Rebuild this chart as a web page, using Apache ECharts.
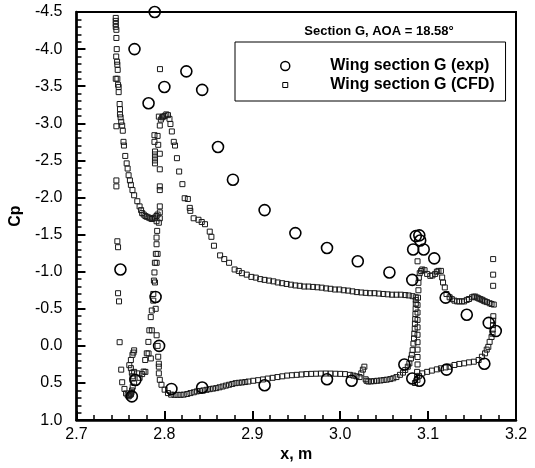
<!DOCTYPE html>
<html>
<head>
<meta charset="utf-8">
<script src="https://cdn.jsdelivr.net/npm/echarts@6/dist/echarts.min.js"></script>
<style>
  html, body { margin: 0; padding: 0; background: #fff; }
  #chart { width: 535px; height: 468px; }
</style>
</head>
<body>
<div id="chart"></div>
<script>
// Pressure coefficient along the three-element wing, section G.
// Each point is [x (m), Cp].

// Wind-tunnel taps
const expSlat = [[2.750,-1.03],[2.763,0.68],[2.767,0.46],[2.766,-4.00],[2.782,-3.27]];
const expMain = [[2.789,-4.50],[2.800,-3.49],[2.825,-3.70],[2.843,-3.45],[2.861,-2.68],[2.878,-2.24],
  [2.914,-1.83],[2.949,-1.52],[2.985,-1.32],[3.020,-1.14],[3.056,-0.99],[3.082,-0.89],
  [2.790,-0.66],[2.794,0.00],[2.808,0.58],[2.843,0.56],[2.914,0.53],[2.985,0.45],[3.013,0.47],
  [3.073,0.25],[3.082,0.44]];
const expFlap = [[3.086,-1.48],[3.090,-1.49],[3.091,-1.42],[3.083,-1.30],[3.095,-1.30],[3.107,-1.18],
  [3.120,-0.65],[3.144,-0.42],[3.169,-0.31],[3.177,-0.20],[3.164,0.24],[3.121,0.32],[3.090,0.47]];

// CFD surface solution: slat
const cfdSlatUpper = [[2.7447,-4.42],[2.7447,-4.38],[2.7447,-4.34],[2.7447,-4.30],[2.7454,-4.26],[2.7454,-4.15],
  [2.7458,-4.00],[2.7452,-3.90],[2.7462,-3.83],[2.7465,-3.79],[2.7469,-3.72],[2.7447,-3.60],[2.7465,-3.60],
  [2.7473,-3.52],[2.7480,-3.49],[2.7480,-3.42],[2.7491,-3.26],[2.7495,-3.19],[2.7495,-3.12],[2.7502,-3.08],
  [2.7509,-3.02],[2.7520,-2.97],[2.7527,-2.90],[2.7535,-2.75],[2.7540,-2.70],[2.7555,-2.56],[2.7571,-2.46],
  [2.7582,-2.39],[2.7593,-2.30],[2.7608,-2.23],[2.7619,-2.17],[2.7637,-2.10],[2.7656,-2.03],[2.7692,-1.95],
  [2.7718,-1.88],[2.7735,-1.83],[2.7747,-1.79],[2.7765,-1.77],[2.7784,-1.75],[2.7800,-1.74],[2.7821,-1.73],
  [2.7840,-1.72],[2.7857,-1.71],[2.7875,-1.72],[2.7893,-1.73],[2.7910,-1.75],[2.7923,-1.77]];
const cfdSlatLower = [[2.7454,-2.96],[2.7454,-2.23],[2.7454,-2.15],[2.7465,-1.41],[2.7473,-1.33],[2.7473,-0.71],
  [2.7484,-0.60],[2.7491,-0.05],[2.7509,0.32],[2.7520,0.49],[2.7546,0.58],[2.7564,0.64],[2.7582,0.66],
  [2.7593,0.68],[2.7600,0.67],[2.7611,0.66],[2.7620,0.65],[2.7625,0.63],[2.7632,0.60],[2.7640,0.55],
  [2.7656,0.50],[2.7645,0.44],[2.7637,0.41],[2.7630,0.36],[2.7619,0.30],[2.7601,0.26],[2.7619,0.19],
  [2.7637,0.12],[2.7648,0.09],[2.7656,0.06],[2.7656,0.35],[2.7692,0.37],[2.7718,0.43],[2.7747,0.38],
  [2.7784,0.35]];

// CFD: main element
const cfdMainNose = [[2.7764,0.346],[2.7782,0.19],[2.7800,0.10],[2.7820,0.102],[2.7846,0.169],[2.7818,-0.054],
  [2.7829,-0.21],[2.7857,-0.21],[2.7912,-0.143],[2.7845,-0.388],[2.7857,-0.477],[2.7901,-0.50],[2.7874,-0.61],
  [2.7874,-0.70],[2.7881,-0.88],[2.7893,-0.855],[2.7887,-0.99],[2.7892,-1.12],[2.7912,-1.12],[2.7903,-1.24],
  [2.7923,-1.24],[2.7911,-1.37],[2.7911,-1.46],[2.7918,-1.55],[2.7911,-1.68],[2.7937,-1.66],[2.7948,-1.72],
  [2.7948,-1.80],[2.7948,-1.88],[2.7948,-2.10],[2.7948,-2.15],[2.7948,-2.38],[2.7893,-2.46],[2.7893,-2.50],
  [2.7893,-2.54],[2.7893,-2.58],[2.7893,-2.62],[2.7948,-2.59],[2.7887,-2.75],[2.7887,-2.84],[2.7930,-2.71],
  [2.7923,-2.83],[2.7948,-2.97],[2.7937,-3.09],[2.7960,-3.05],[2.7975,-3.08],[2.7950,-3.73]];
const cfdMainUpper = [[2.7985,-3.09],[2.8003,-3.10],[2.8022,-3.12],[2.8041,-3.11],[2.8058,-3.06],[2.8069,-2.99],
  [2.8085,-2.89],[2.8107,-2.75],[2.8121,-2.70],[2.8143,-2.53],[2.8168,-2.35],[2.8205,-2.18],[2.8231,-1.99],
  [2.8267,-1.98],[2.8289,-1.86],[2.8295,-1.82],[2.8333,-1.72],[2.8388,-1.70],[2.8425,-1.67],[2.8462,-1.64],
  [2.8516,-1.54],[2.8535,-1.47],[2.8564,-1.35],[2.8634,-1.22],[2.8681,-1.17],[2.8736,-1.12],[2.8799,-1.03],
  [2.8846,-1.01],[2.8882,-0.98],[2.8937,-0.96],[2.8990,-0.93],[2.9040,-0.92],[2.9090,-0.90],[2.9140,-0.89],
  [2.9190,-0.88],[2.9240,-0.87],[2.9290,-0.855],[2.9340,-0.845],[2.9390,-0.835],[2.9440,-0.825],
  [2.9490,-0.815],[2.9540,-0.81],[2.9590,-0.80],[2.9640,-0.80],[2.9690,-0.795],[2.9740,-0.79],
  [2.9790,-0.785],[2.9840,-0.775],[2.9890,-0.77],[2.9940,-0.76],[2.9990,-0.76],[3.0040,-0.75],
  [3.0090,-0.745],[3.0140,-0.735],[3.0190,-0.725],[3.0240,-0.72],[3.0290,-0.715],[3.0340,-0.71],
  [3.0390,-0.71],[3.0440,-0.705],[3.0490,-0.70],[3.0540,-0.695],[3.0590,-0.69],[3.0640,-0.69],
  [3.0690,-0.69],[3.0740,-0.685],[3.0780,-0.68],[3.0824,-0.67]];
const cfdMainLower = [[2.7923,0.0],[2.7930,0.146],[2.7937,0.24],[2.7937,0.28],[2.7937,0.37],[2.7948,0.457],
  [2.7967,0.524],[2.8003,0.59],[2.8041,0.636],[2.8077,0.657],[2.8115,0.66],[2.8150,0.66],[2.8185,0.66],
  [2.8220,0.657],[2.8260,0.648],[2.8297,0.636],[2.8335,0.625],[2.8370,0.613],[2.8405,0.607],[2.8443,0.60],
  [2.8480,0.592],[2.8516,0.583],[2.8553,0.576],[2.8590,0.569],[2.8627,0.558],[2.8663,0.547],[2.8700,0.535],
  [2.8736,0.524],[2.8773,0.513],[2.8810,0.502],[2.8846,0.497],[2.8882,0.493],[2.8920,0.487],[2.8956,0.48],
  [2.9011,0.47],[2.9066,0.462],[2.9121,0.452],[2.9176,0.44],[2.9231,0.43],[2.9286,0.42],[2.9341,0.41],
  [2.9396,0.40],[2.9451,0.395],[2.9505,0.39],[2.9560,0.385],[2.9615,0.38],[2.9670,0.377],[2.9725,0.375],
  [2.9780,0.373],[2.9835,0.372],[2.9890,0.373],[2.9945,0.375],[3.0000,0.377],[3.0055,0.38],[3.0110,0.39],
  [3.0150,0.40],[3.0185,0.41],[3.0220,0.42],[3.0240,0.37],[3.0258,0.32],[3.0275,0.28],[3.0290,0.45],
  [3.0300,0.47],[3.0320,0.48],[3.0350,0.478],[3.0385,0.475],[3.0420,0.47],[3.0460,0.466],[3.0495,0.46],
  [3.0530,0.455],[3.0570,0.447],[3.0604,0.436],[3.0640,0.42],[3.0680,0.39],[3.0714,0.36],[3.0740,0.324],
  [3.0769,0.28],[3.0787,0.236],[3.0805,0.17],[3.0815,0.12],[3.0824,0.057],[3.0833,-0.031],[3.0840,-0.10],
  [3.0843,-0.165],[3.0848,-0.23],[3.0850,-0.30],[3.0853,-0.36],[3.0856,-0.43],[3.0858,-0.50],[3.0860,-0.57],
  [3.0860,-0.62],[3.0860,-0.655]];

// CFD: flap
const cfdFlapUpper = [[3.0875,0.42],[3.0875,0.35],[3.0880,0.25],[3.0880,0.15],[3.0880,0.05],[3.0880,-0.05],
  [3.0880,-0.15],[3.0880,-0.25],[3.0880,-0.35],[3.0880,-0.45],[3.0880,-0.55],[3.0885,-0.65],[3.0890,-0.75],
  [3.0890,-0.85],[3.0895,-0.92],[3.0905,-0.98],[3.0920,-1.01],[3.0934,-1.03],[3.0960,-1.02],[3.0989,-0.97],
  [3.1025,-0.944],[3.1050,-0.95],[3.1080,-0.97],[3.1100,-1.00],[3.1118,-1.011],[3.1146,-1.011],[3.1160,-0.922],
  [3.1170,-0.855],[3.1190,-0.788],[3.1209,-0.699],[3.1245,-0.655],[3.1270,-0.63],[3.1300,-0.61],[3.1330,-0.60],
  [3.1355,-0.60],[3.1385,-0.60],[3.1410,-0.60],[3.1440,-0.62],[3.1465,-0.632],[3.1500,-0.655],[3.1520,-0.664],
  [3.1538,-0.664],[3.1560,-0.65],[3.1575,-0.64],[3.1595,-0.63],[3.1612,-0.622],[3.1630,-0.61],[3.1648,-0.60],
  [3.1670,-0.59],[3.1700,-0.575],[3.1722,-0.565],[3.1747,-0.557],[3.0880,-1.14],[3.1740,-1.17],[3.1740,-0.96],
  [3.1740,-0.81]];
const cfdFlapLower = [[3.0850,0.50],[3.0879,0.457],[3.0897,0.404],[3.0934,0.37],[3.0989,0.35],[3.1043,0.333],
  [3.1100,0.316],[3.1146,0.302],[3.1200,0.29],[3.1245,0.28],[3.1300,0.257],[3.1355,0.243],[3.1410,0.235],
  [3.1465,0.222],[3.1520,0.213],[3.1575,0.19],[3.1612,0.146],[3.1648,0.10],[3.1667,0.05],[3.1685,0.013],
  [3.1700,-0.054],[3.1722,-0.12],[3.1733,-0.165],[3.1735,-0.22],[3.1738,-0.28],[3.1740,-0.34],[3.1742,-0.40]];

const expPoints = [].concat(expSlat, expMain, expFlap);
const cfdPoints = [].concat(cfdSlatUpper, cfdSlatLower, cfdMainNose, cfdMainUpper, cfdMainLower,
  cfdFlapUpper, cfdFlapLower);

const FONT = '"Liberation Sans", Arial, Helvetica, sans-serif';
const chart = echarts.init(document.getElementById('chart'), null, { renderer: 'canvas' });

chart.setOption({
  animation: false,
  backgroundColor: '#fff',
  title: {
    text: 'Section G, AOA = 18.58°',
    left: 374, top: 20, textAlign: 'center',
    textStyle: { fontFamily: FONT, fontSize: 13, fontWeight: 'bold', color: '#000' }
  },
  legend: {
    left: 235, top: 42, orient: 'vertical',
    padding: [15, 11, 7, 45],
    itemWidth: 80, itemHeight: 9, itemGap: 1,
    borderColor: '#000', borderWidth: 1, backgroundColor: '#fff',
    textStyle: { fontFamily: FONT, fontSize: 16, fontWeight: 'bold', color: '#000', lineHeight: 18 },
    data: [
      { name: 'Wing section G (exp)', icon: 'circle',
        itemStyle: { color: 'transparent', borderColor: '#000', borderWidth: 1.5 } },
      { name: 'Wing section G (CFD)', icon: 'path://M0,0M9,9M2,2h5v5h-5z',
        itemStyle: { color: 'transparent', borderColor: '#000', borderWidth: 1 } }
    ]
  },
  grid: {
    left: 62, right: 19, top: 12, bottom: 44,
    show: true, borderColor: '#000', borderWidth: 2
  },
  xAxis: {
    type: 'value', min: 2.7, max: 3.2, interval: 0.1,
    name: 'x, m', nameLocation: 'middle', nameGap: 17,
    nameTextStyle: { fontFamily: FONT, fontSize: 16, fontWeight: 'bold', color: '#000' },
    axisLine: { onZero: false, lineStyle: { color: '#000', width: 2.5 } },
    axisTick: { inside: true, length: 9, lineStyle: { color: '#000', width: 2 } },
    minorTick: { show: true, splitNumber: 5, length: 5, lineStyle: { color: '#000', width: 1.5 } },
    axisLabel: { margin: 6, fontFamily: FONT, fontSize: 16, color: '#000',
      formatter: v => v.toFixed(1) },
    splitLine: { show: false }
  },
  yAxis: {
    type: 'value', inverse: true, min: -4.5, max: 1.0, interval: 0.5,
    name: 'Cp', nameLocation: 'middle', nameGap: 27, nameRotate: 90,
    nameTextStyle: { fontFamily: FONT, fontSize: 16, fontWeight: 'bold', color: '#000' },
    axisLine: { onZero: false, lineStyle: { color: '#000', width: 2.5 } },
    axisTick: { inside: true, length: 9, lineStyle: { color: '#000', width: 2 } },
    minorTick: { show: true, splitNumber: 5, length: 5, lineStyle: { color: '#000', width: 1.5 } },
    axisLabel: { margin: 14, fontFamily: FONT, fontSize: 16, color: '#000',
      formatter: v => v.toFixed(1) },
    splitLine: { show: false }
  },
  series: [
    {
      name: 'Wing section G (CFD)', type: 'scatter', data: cfdPoints,
      symbol: 'rect', symbolSize: 5, clip: false,
      itemStyle: { color: 'transparent', borderColor: '#1a1a1a', borderWidth: 1, opacity: 1 }
    },
    {
      name: 'Wing section G (exp)', type: 'scatter', data: expPoints,
      symbol: 'circle', symbolSize: 11, clip: false,
      itemStyle: { color: 'transparent', borderColor: '#000', borderWidth: 1.6, opacity: 1 }
    }
  ]
});
</script>
</body>
</html>
